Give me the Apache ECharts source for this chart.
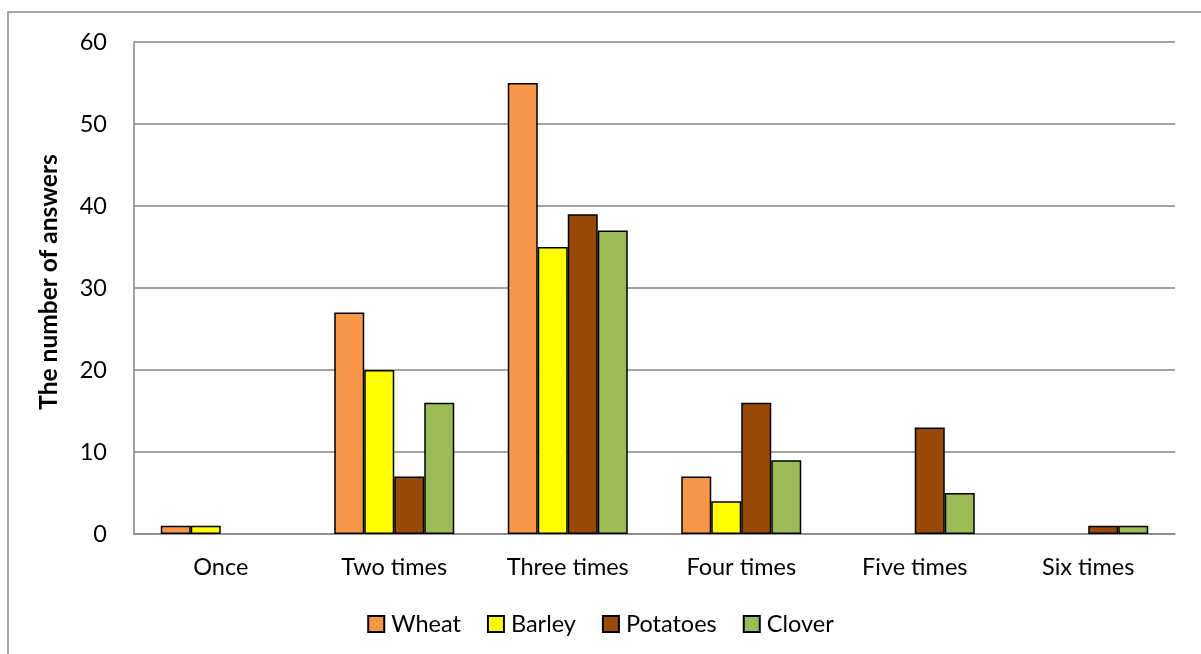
<!DOCTYPE html>
<html>
<head>
<meta charset="utf-8">
<script src="https://cdn.jsdelivr.net/npm/echarts@6/dist/echarts.min.js"></script>
<style>
  html, body { margin: 0; padding: 0; background: #fff; }
  #chart { width: 1201px; height: 654px; }
</style>
</head>
<body>
<div id="chart"></div>
<script>
// Number of answers per crop, by how many times the field was treated
const categories = ['Once', 'Two times', 'Three times', 'Four times', 'Five times', 'Six times'];
const wheat    = [1, 27, 55, 7, null, null];
const barley   = [1, 20, 35, 4, null, null];
const potatoes = [null, 7, 39, 16, 13, 1];
const clover   = [null, 16, 37, 9, 5, 1];
const seriesNames = ['Wheat', 'Barley', 'Potatoes', 'Clover'];
const seriesColors = ['#F79646', '#FFFF00', '#984807', '#9BBB59'];
const seriesData = [wheat, barley, potatoes, clover];

const FONT = 'Lato, "Open Sans", sans-serif';

const chart = echarts.init(document.getElementById('chart'), null, { renderer: 'canvas' });
chart.setOption({
  backgroundColor: '#fff',
  animation: false,
  textStyle: { fontFamily: FONT },
  graphic: [{
    type: 'rect',
    shape: { x: 8, y: 12, width: 1400, height: 800 },
    style: { fill: 'none', stroke: '#8a8a8a', lineWidth: 1.5 },
    silent: true
  }],
  grid: { left: 134, right: 26, top: 42, bottom: 120 },
  legend: {
    top: 607,
    left: 'center',
    icon: 'rect',
    itemWidth: 16,
    itemHeight: 16,
    itemGap: 26,
    textStyle: { fontSize: 23.5, color: '#000', fontFamily: FONT, padding: [0, 0, 0, 2] },
    data: seriesNames
  },
  xAxis: {
    type: 'category',
    data: categories,
    axisLine: { lineStyle: { color: '#868686', width: 1.5 } },
    axisTick: { show: false },
    axisLabel: { fontSize: 23.5, color: '#000', margin: 21, fontFamily: FONT }
  },
  yAxis: {
    type: 'value',
    min: 0,
    max: 60,
    interval: 10,
    name: 'The number of answers',
    nameLocation: 'middle',
    nameGap: 72,
    nameRotate: 90,
    nameTextStyle: { fontSize: 24.5, fontWeight: 'bold', color: '#000', fontFamily: FONT, padding: [0, 0, 0, 12] },
    axisLine: { show: true, lineStyle: { color: '#868686', width: 1.5 } },
    axisTick: { show: false },
    axisLabel: { fontSize: 23.5, color: '#000', margin: 27, fontFamily: FONT },
    splitLine: { lineStyle: { color: '#868686', width: 1.5 } }
  },
  series: seriesNames.map((name, i) => ({
    name: name,
    type: 'bar',
    data: seriesData[i],
    barWidth: 30,
    barGap: '0%',
    itemStyle: { color: seriesColors[i], borderColor: '#000', borderWidth: 1.5 }
  }))
});
</script>
</body>
</html>
